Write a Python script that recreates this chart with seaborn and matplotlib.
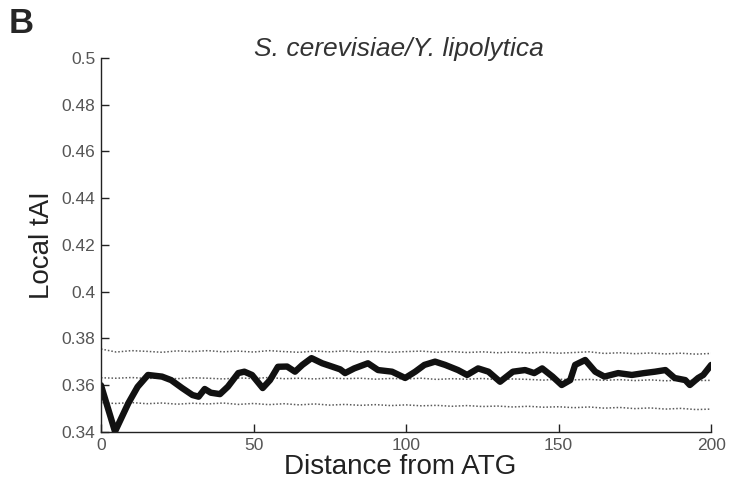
import matplotlib
matplotlib.use("Agg")
import matplotlib.pyplot as plt
import seaborn as sns
import numpy as np
import pandas as pd

####Data#######################################################################
dist = [0, 4.6, 9, 12, 15.4, 20, 23, 26.6, 30, 32, 34, 36, 39, 41.6, 45, 47,
        49.5, 53, 55.4, 58, 61, 63.6, 66, 69, 72.5, 75.7, 78.4, 80, 83, 87.5,
        90.8, 95.4, 99.7, 103, 106, 109.5, 112.8, 117, 120, 123.6, 127, 130.8,
        135, 139, 142, 144.6, 148, 151, 153.8, 155.4, 158.7, 162, 165, 169.5,
        174, 178, 181.6, 185, 188, 191.5, 193, 195.7, 197.4, 200]
tai = [0.3600, 0.3402, 0.3524, 0.3593, 0.3644, 0.3637, 0.3622, 0.3588, 0.3558,
       0.3551, 0.3584, 0.3568, 0.3562, 0.3594, 0.3652, 0.3658, 0.3644, 0.3588,
       0.3622, 0.3679, 0.3680, 0.3658, 0.3687, 0.3716, 0.3694, 0.3680, 0.3668,
       0.3652, 0.3672, 0.3694, 0.3665, 0.3658, 0.3631, 0.3658, 0.3687, 0.3701,
       0.3687, 0.3665, 0.3644, 0.3672, 0.3658, 0.3615, 0.3658, 0.3665, 0.3652,
       0.3672, 0.3637, 0.3601, 0.3622, 0.3687, 0.3708, 0.3658, 0.3637, 0.3652,
       0.3644, 0.3652, 0.3658, 0.3665, 0.3631, 0.3622, 0.3601, 0.3631, 0.3644,
       0.3687]

# random-shuffle bands (every 5 nt)
band_x = list(range(0, 201, 5))
upper = [0.3755, 0.3742, 0.3748, 0.3745, 0.3741, 0.3747, 0.3744, 0.3748, 0.3743,
         0.3746, 0.3742, 0.3748, 0.3744, 0.3741, 0.3746, 0.3743, 0.3747, 0.3742,
         0.3745, 0.3741, 0.3744, 0.3746, 0.3741, 0.3744, 0.3740, 0.3743, 0.3739,
         0.3742, 0.3738, 0.3741, 0.3737, 0.3740, 0.3743, 0.3736, 0.3739, 0.3735,
         0.3738, 0.3734, 0.3737, 0.3733, 0.3736]
mid = [0.3632, 0.3630, 0.3633, 0.3629, 0.3631, 0.3628, 0.3632, 0.3630, 0.3627,
       0.3631, 0.3629, 0.3633, 0.3628, 0.3630, 0.3627, 0.3631, 0.3628, 0.3630,
       0.3626, 0.3629, 0.3627, 0.3630, 0.3625, 0.3628, 0.3626, 0.3629, 0.3624,
       0.3627, 0.3625, 0.3622, 0.3626, 0.3623, 0.3625, 0.3621, 0.3624, 0.3620,
       0.3623, 0.3619, 0.3622, 0.3620, 0.3621]
lower = [0.3525, 0.3522, 0.3526, 0.3521, 0.3524, 0.3519, 0.3523, 0.3520, 0.3524,
         0.3518, 0.3522, 0.3517, 0.3521, 0.3516, 0.3520, 0.3515, 0.3518, 0.3514,
         0.3517, 0.3513, 0.3516, 0.3512, 0.3514, 0.3510, 0.3513, 0.3509, 0.3511,
         0.3507, 0.3510, 0.3506, 0.3508, 0.3504, 0.3507, 0.3502, 0.3505, 0.3500,
         0.3503, 0.3498, 0.3501, 0.3496, 0.3498]

yticks = [0.34, 0.36, 0.38, 0.4, 0.42, 0.44, 0.46, 0.48, 0.5]
ytick_labels = ["0.34", "0.36", "0.38", "0.4", "0.42", "0.44", "0.46", "0.48", "0.5"]
xticks = [0, 50, 100, 150, 200]

####Plot#######################################################################
sns.set_style("ticks")
plt.rcParams['font.family'] = ['Liberation Sans', 'DejaVu Sans']

fig = plt.figure(figsize=(7.37, 4.83), dpi=100)
ax = fig.add_axes([0.137, 0.1056, 0.828, 0.7744])

df_band = pd.DataFrame({"x": band_x, "upper": upper, "mid": mid, "lower": lower})
for col in ["upper", "mid", "lower"]:
    sns.lineplot(data=df_band, x="x", y=col, ax=ax, color="#5a5a5a",
                 linewidth=1.1, linestyle=(0, (1, 1.3)))

df_line = pd.DataFrame({"dist": dist, "tai": tai})
sns.lineplot(data=df_line, x="dist", y="tai", ax=ax, color="#111111",
             linewidth=4.6, solid_joinstyle="round", solid_capstyle="round")

ax.set_xlim(0, 200)
ax.set_ylim(0.34, 0.5)
ax.set_xticks(xticks)
ax.set_yticks(yticks)
ax.set_yticklabels(ytick_labels)
sns.despine(ax=ax)
for s in ["left", "bottom"]:
    ax.spines[s].set_color("#222222")
    ax.spines[s].set_linewidth(1.0)
ax.tick_params(direction="in", length=6, width=1.0, color="#222222",
               labelsize=12.5, labelcolor="#555555", pad=4)

ax.set_xlabel("Distance from ATG", fontsize=20, color="#222222")
ax.set_ylabel("Local tAI", fontsize=20, color="#222222")
ax.xaxis.set_label_coords(0.49, -0.058)
ax.yaxis.set_label_coords(-0.075, 0.5)

ax.set_title("S. cerevisiae/Y. lipolytica", fontsize=19, style="italic",
             color="#333333", pad=-2, x=0.488, y=1.012)
fig.text(0.012, 0.985, "B", fontsize=25, fontweight="bold", va="top", ha="left")

plt.savefig("out.png", dpi=100)
